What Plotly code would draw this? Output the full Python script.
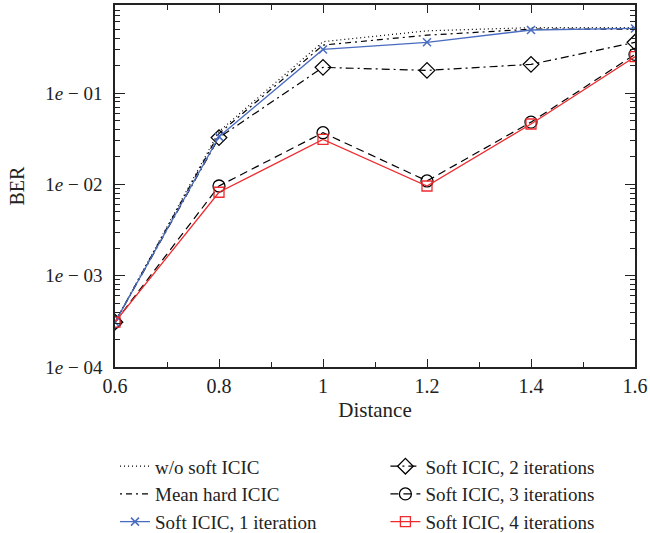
import plotly.graph_objects as go

distance = [0.6, 0.8, 1.0, 1.2, 1.4, 1.6]

ber_wo_soft = [3.1e-4, 0.038, 0.365, 0.48, 0.52, 0.52]
ber_mean_hard = [3.1e-4, 0.036, 0.335, 0.43, 0.50, 0.50]
ber_soft_1 = [3.1e-4, 0.0333, 0.30, 0.359, 0.49, 0.51]
ber_soft_2 = [3.1e-4, 0.0325, 0.191, 0.177, 0.206, 0.359]
ber_soft_3 = [3.1e-4, 0.0096, 0.0368, 0.0109, 0.048, 0.265]
ber_soft_4 = [3.1e-4, 0.0082, 0.0311, 0.0096, 0.0458, 0.250]

y_major = [1e-4, 1e-3, 1e-2, 1e-1]
y_major_text = ["1<i>e</i> − 04", "1<i>e</i> − 03", "1<i>e</i> − 02", "1<i>e</i> − 01"]
y_minor = [m * 10.0 ** e for e in range(-4, 0) for m in range(2, 10)]

FONT = "Liberation Serif"
INK = "#222222"
BLUE = "#4a6cc0"
RED = "#ee2a2e"

fig = go.Figure()

fig.add_trace(go.Scatter(
    x=distance, y=ber_wo_soft, name="w/o soft ICIC", mode="lines",
    line=dict(color="black", width=1.2, dash="1px,3px"),
    legend="legend", legendrank=1))
fig.add_trace(go.Scatter(
    x=distance, y=ber_mean_hard, name="Mean hard ICIC", mode="lines",
    line=dict(color="black", width=1.2, dash="2px,4px,6px,4px"),
    legend="legend", legendrank=2))
fig.add_trace(go.Scatter(
    x=distance, y=ber_soft_2, name="Soft ICIC, 2 iterations", mode="lines+markers",
    line=dict(color="black", width=1.2, dash="8px,4px,2px,4px"),
    marker=dict(symbol="diamond-open", size=12, color="black", line=dict(width=1.3)),
    legend="legend2", legendrank=1))
fig.add_trace(go.Scatter(
    x=distance, y=ber_soft_3, name="Soft ICIC, 3 iterations", mode="lines+markers",
    line=dict(color="black", width=1.2, dash="8px,5px"),
    marker=dict(symbol="circle-open", size=12, color="black", line=dict(width=1.3)),
    legend="legend2", legendrank=2))
fig.add_trace(go.Scatter(
    x=distance, y=ber_soft_1, name="Soft ICIC, 1 iteration", mode="lines+markers",
    line=dict(color=BLUE, width=1.3),
    marker=dict(symbol="x-thin-open", size=8, color=BLUE, line=dict(width=1.5, color=BLUE)),
    legend="legend", legendrank=3))
fig.add_trace(go.Scatter(
    x=distance, y=ber_soft_4, name="Soft ICIC, 4 iterations", mode="lines+markers",
    line=dict(color=RED, width=1.3),
    marker=dict(symbol="square-open", size=10, color=RED, line=dict(width=1.3)),
    legend="legend2", legendrank=3))

y_range = [-4, -0.036]
x_range = [0.6, 1.6]

fig.update_layout(
    width=650, height=533,
    margin=dict(l=115, r=15, t=5, b=166, autoexpand=False),
    paper_bgcolor="white", plot_bgcolor="white",
    font=dict(family=FONT, size=20, color=INK),
    showlegend=True,
    xaxis=dict(
        range=x_range, tickmode="linear", tick0=0.6, dtick=0.2,
        ticks="inside", ticklen=8, tickwidth=1.2, tickcolor=INK,
        minor=dict(dtick=0.1, ticks="inside", ticklen=5, tickwidth=1.2,
                   tickcolor=INK, showgrid=False),
        showline=True, linecolor=INK, linewidth=1.5, mirror="ticks",
        showgrid=False, zeroline=False, ticklabelstandoff=0,
        title=dict(text="Distance", standoff=7, font=dict(size=21)),
        tickfont=dict(size=20),
    ),
    yaxis=dict(
        type="log", range=y_range, tickmode="array",
        tickvals=y_major, ticktext=y_major_text,
        ticks="inside", ticklen=10, tickwidth=1.2, tickcolor=INK,
        minor=dict(tickmode="array", tickvals=y_minor, ticks="inside",
                   ticklen=5, tickwidth=1.2, tickcolor=INK, showgrid=False),
        showline=True, linecolor=INK, linewidth=1.5, mirror="ticks",
        showgrid=False, zeroline=False, ticklabelstandoff=7,
        title=dict(text="BER", standoff=15, font=dict(size=20)),
        tickfont=dict(size=19),
    ),
    legend=dict(
        x=0.0, y=-0.222, xanchor="left", yanchor="top",
        bgcolor="rgba(0,0,0,0)", font=dict(size=19), tracegroupgap=0,
        itemwidth=30,
    ),
    legend2=dict(
        x=0.52, y=-0.222, xanchor="left", yanchor="top",
        bgcolor="rgba(0,0,0,0)", font=dict(size=19), tracegroupgap=0,
        itemwidth=30,
    ),
)

fig.write_html("out.html")
